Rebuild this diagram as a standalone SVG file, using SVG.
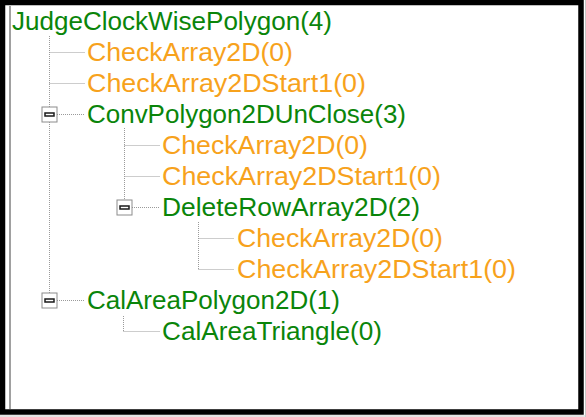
<svg xmlns="http://www.w3.org/2000/svg" width="586" height="417" viewBox="0 0 586 417">
  <style>
    .t { font-family: "Liberation Sans", Arial, sans-serif; font-size: 25px; }
    .g { fill: #0a850a; }
    .o { fill: #f7a21c; }
    .dot { stroke: #9a9a9a; stroke-width: 1; stroke-dasharray: 1 1; fill: none; }
    .box { fill: #ffffff; stroke: #8c8c8c; stroke-width: 1; }
    .minus { fill: #ffffff; stroke: #1a1a1a; stroke-width: 1.5; }
  </style>
  <defs>
    <g id="expander">
      <rect class="box" x="-7.5" y="-7.5" width="15" height="15"/>
      <rect class="minus" x="-4.5" y="-1.5" width="9" height="3"/>
    </g>
  </defs>

  <!-- window background and frame -->
  <rect x="0" y="0" width="586" height="417" fill="#ffffff"/>
  <line x1="0" y1="416" x2="586" y2="416" stroke="#c8c8c8" stroke-width="1"/>
  <line x1="585.5" y1="0" x2="585.5" y2="417" stroke="#c8c8c8" stroke-width="1"/>
  <rect x="2.5" y="2.5" width="578.5" height="409.5" fill="none" stroke="#000000" stroke-width="5.5"/>
  <line x1="10" y1="6" x2="10" y2="409" stroke="#a0a0a0" stroke-width="2"/>

  <!-- tree connectors -->
  <g id="connectors">
    <!-- root level -->
    <line class="dot" x1="49.5" y1="36" x2="49.5" y2="293"/>
    <line class="dot" x1="49.5" y1="52.5" x2="85" y2="52.5"/>
    <line class="dot" x1="49.5" y1="83.5" x2="85" y2="83.5"/>
    <line class="dot" x1="57" y1="114.5" x2="85" y2="114.5"/>
    <line class="dot" x1="57" y1="300.5" x2="85" y2="300.5"/>
    <!-- ConvPolygon2DUnClose children -->
    <line class="dot" x1="124.5" y1="128" x2="124.5" y2="200"/>
    <line class="dot" x1="124.5" y1="145.5" x2="160" y2="145.5"/>
    <line class="dot" x1="124.5" y1="176.5" x2="160" y2="176.5"/>
    <line class="dot" x1="132" y1="207.5" x2="160" y2="207.5"/>
    <!-- DeleteRowArray2D children -->
    <line class="dot" x1="198.5" y1="222" x2="198.5" y2="269.5"/>
    <line class="dot" x1="198.5" y1="238.5" x2="234" y2="238.5"/>
    <line class="dot" x1="198.5" y1="269.5" x2="234" y2="269.5"/>
    <!-- CalAreaPolygon2D children -->
    <line class="dot" x1="123.5" y1="316" x2="123.5" y2="331.5"/>
    <line class="dot" x1="123.5" y1="331.5" x2="160" y2="331.5"/>
    <!-- expanders -->
    <use href="#expander" x="49.5" y="114.5"/>
    <use href="#expander" x="124.5" y="207.5"/>
    <use href="#expander" x="49.5" y="300.5"/>
  </g>

  <g id="n-judge"><text class="t g" x="12" y="30" textLength="320" lengthAdjust="spacingAndGlyphs">JudgeClockWisePolygon(4)</text></g>
  <g id="n-check1"><text class="t o" x="87" y="61" textLength="206" lengthAdjust="spacingAndGlyphs">CheckArray2D(0)</text></g>
  <g id="n-start1"><text class="t o" x="87" y="92" textLength="279" lengthAdjust="spacingAndGlyphs">CheckArray2DStart1(0)</text></g>
  <g id="n-conv"><text class="t g" x="87" y="123" textLength="319" lengthAdjust="spacingAndGlyphs">ConvPolygon2DUnClose(3)</text></g>
  <g id="n-check2"><text class="t o" x="162" y="154" textLength="206" lengthAdjust="spacingAndGlyphs">CheckArray2D(0)</text></g>
  <g id="n-start2"><text class="t o" x="162" y="185" textLength="279" lengthAdjust="spacingAndGlyphs">CheckArray2DStart1(0)</text></g>
  <g id="n-delete"><text class="t g" x="162" y="216" textLength="258" lengthAdjust="spacingAndGlyphs">DeleteRowArray2D(2)</text></g>
  <g id="n-check3"><text class="t o" x="237" y="247" textLength="206" lengthAdjust="spacingAndGlyphs">CheckArray2D(0)</text></g>
  <g id="n-start3"><text class="t o" x="237" y="278" textLength="279" lengthAdjust="spacingAndGlyphs">CheckArray2DStart1(0)</text></g>
  <g id="n-calpoly"><text class="t g" x="87" y="309" textLength="253" lengthAdjust="spacingAndGlyphs">CalAreaPolygon2D(1)</text></g>
  <g id="n-caltri"><text class="t g" x="162" y="340" textLength="220" lengthAdjust="spacingAndGlyphs">CalAreaTriangle(0)</text></g>
</svg>
